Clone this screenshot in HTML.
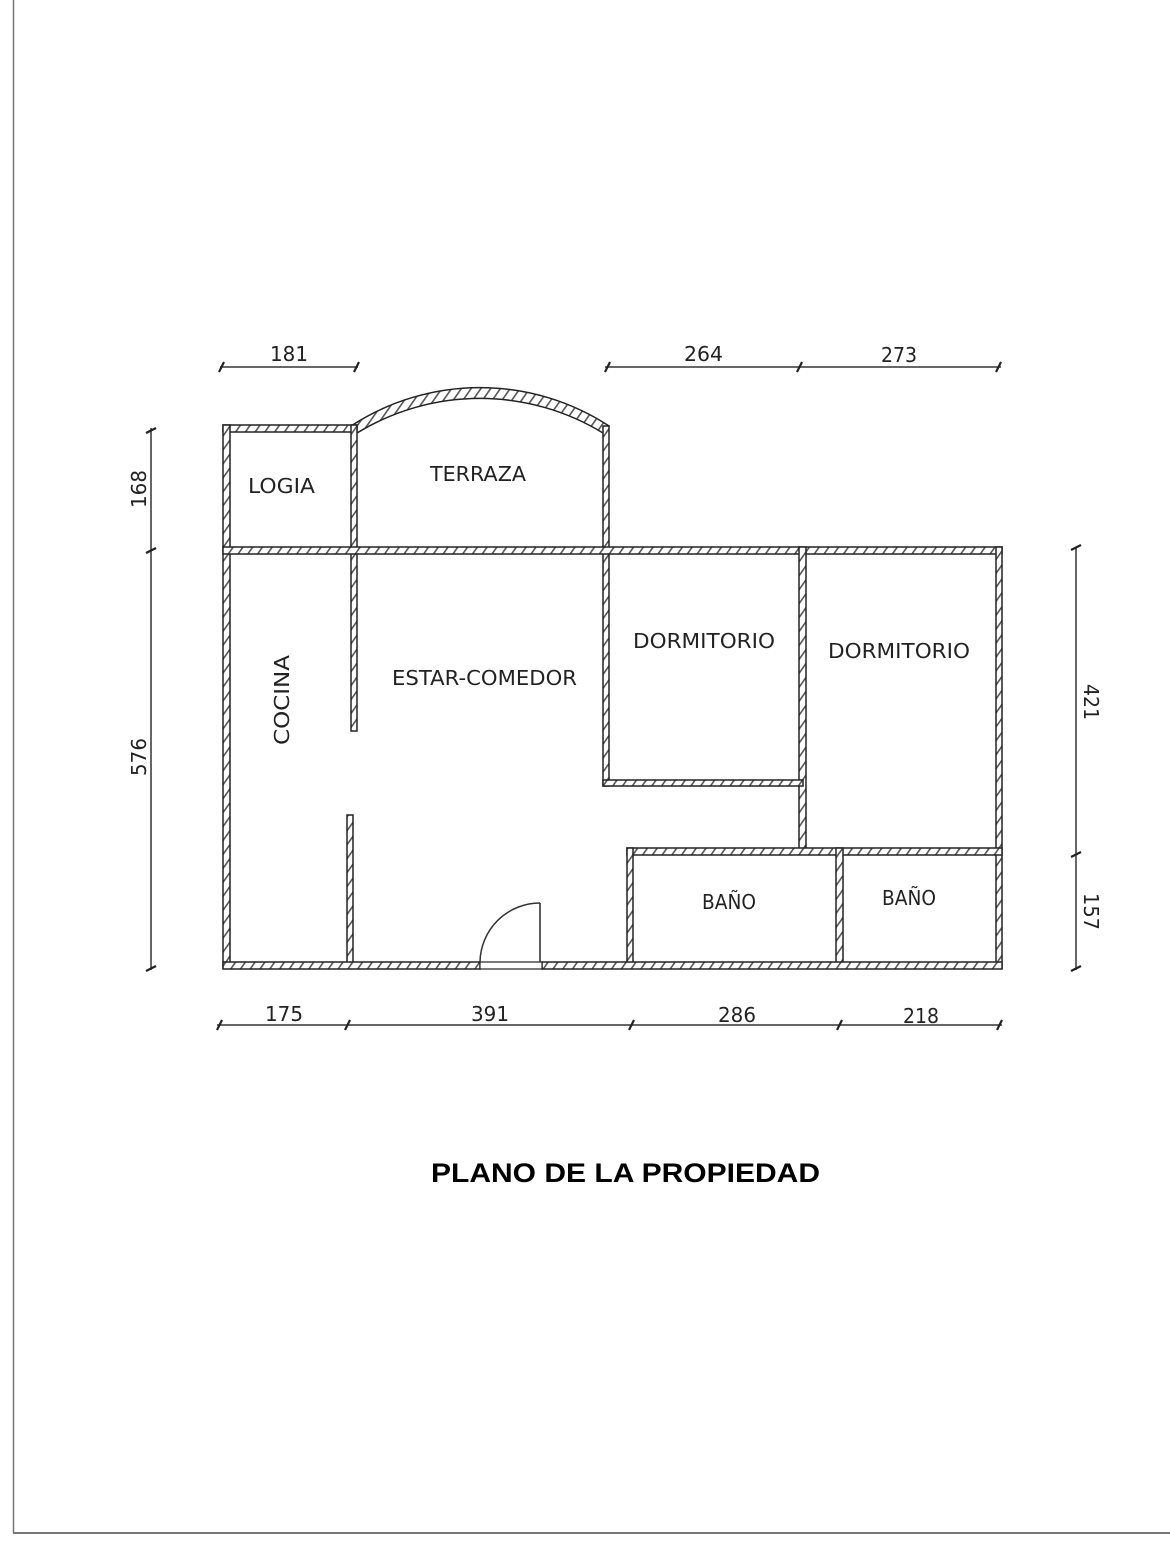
<!DOCTYPE html>
<html><head><meta charset="utf-8"><style>
html,body{margin:0;padding:0;background:#fff}
svg{display:block}
.t{font-family:"DejaVu Sans","Liberation Sans",sans-serif;font-size:20px;fill:#222}
.w{fill:url(#h);stroke:#222;stroke-width:1.5}
.d{stroke:#333;stroke-width:1.5;fill:none}
</style></head><body>
<svg width="1170" height="1545" viewBox="0 0 1170 1545" xmlns="http://www.w3.org/2000/svg">
<defs>
<pattern id="h" width="8" height="8" patternUnits="userSpaceOnUse" patternTransform="rotate(35)">
<rect width="8" height="8" fill="#fff"/><rect width="1.6" height="8" fill="#555"/>
</pattern>
</defs>
<line x1="13.5" y1="0" x2="13.5" y2="1533" stroke="#777" stroke-width="1.5"/>
<line x1="13" y1="1533" x2="1170" y2="1533" stroke="#777" stroke-width="2"/>

<!-- arc terraza -->
<path d="M351 426 A236 236 0 0 1 609 426 L603 433 A236 236 0 0 0 357 433 Z" class="w"/>

<!-- walls -->
<rect class="w" x="223" y="425" width="134" height="7"/>
<rect class="w" x="223" y="425" width="7" height="543"/>
<rect class="w" x="351" y="425" width="6" height="306"/>
<rect class="w" x="603" y="426" width="6" height="360"/>
<rect class="w" x="223" y="547" width="779" height="7"/>
<rect class="w" x="996" y="547" width="6" height="421"/>
<rect class="w" x="799" y="547" width="7" height="306"/>
<rect class="w" x="603" y="780" width="200" height="6"/>
<rect class="w" x="627" y="848" width="375" height="7"/>
<rect class="w" x="627" y="848" width="6" height="120"/>
<rect class="w" x="836" y="848" width="7" height="120"/>
<rect class="w" x="347" y="815" width="6" height="153"/>
<rect class="w" x="223" y="962" width="257" height="7"/>
<rect class="w" x="542" y="962" width="460" height="7"/>
<rect x="480" y="962" width="62" height="7" fill="#fff" stroke="#222" stroke-width="1.2"/>
<!-- door -->
<line x1="540" y1="903" x2="540" y2="962" stroke="#333" stroke-width="1.6"/>
<path d="M480 962 A60 60 0 0 1 540 903" class="d"/>

<!-- labels -->
<text class="t" x="248" y="493" textLength="67" lengthAdjust="spacingAndGlyphs">LOGIA</text>
<text class="t" x="430" y="481" textLength="96" lengthAdjust="spacingAndGlyphs">TERRAZA</text>
<text class="t" x="392" y="685" textLength="185" lengthAdjust="spacingAndGlyphs">ESTAR-COMEDOR</text>
<text class="t" x="633" y="648" textLength="142" lengthAdjust="spacingAndGlyphs">DORMITORIO</text>
<text class="t" x="828" y="658" textLength="142" lengthAdjust="spacingAndGlyphs">DORMITORIO</text>
<text class="t" x="702" y="909" textLength="54" lengthAdjust="spacingAndGlyphs">BAÑO</text>
<text class="t" x="882" y="905" textLength="54" lengthAdjust="spacingAndGlyphs">BAÑO</text>
<text class="t" transform="translate(289,745) rotate(-90)" textLength="90" lengthAdjust="spacingAndGlyphs">COCINA</text>

<!-- dimensions -->
<g class="d">
<line x1="220" y1="367" x2="358" y2="367"/>
<line x1="605" y1="367" x2="1001" y2="367"/>
<line x1="217" y1="1025" x2="1002" y2="1025"/>
<line x1="151" y1="428" x2="151" y2="970"/>
<line x1="1076" y1="547" x2="1076" y2="970"/>
</g>
<g stroke="#222" stroke-width="2.2">
<line x1="219" y1="372" x2="224" y2="362"/><line x1="354" y1="372" x2="359" y2="362"/>
<line x1="605" y1="372" x2="610" y2="362"/><line x1="797" y1="372" x2="802" y2="362"/><line x1="996" y1="372" x2="1001" y2="362"/>
<line x1="217" y1="1030" x2="222" y2="1020"/><line x1="345" y1="1030" x2="350" y2="1020"/><line x1="629" y1="1030" x2="634" y2="1020"/><line x1="837" y1="1030" x2="842" y2="1020"/><line x1="997" y1="1030" x2="1002" y2="1020"/>
<line x1="146" y1="433" x2="156" y2="428"/><line x1="146" y1="553" x2="156" y2="548"/><line x1="146" y1="971" x2="156" y2="966"/>
<line x1="1071" y1="550" x2="1081" y2="545"/><line x1="1071" y1="857" x2="1081" y2="852"/><line x1="1071" y1="971" x2="1081" y2="966"/>
</g>
<g class="t" style="font-size:20px">
<text x="270" y="361" textLength="38" lengthAdjust="spacingAndGlyphs">181</text>
<text x="684" y="361" textLength="39" lengthAdjust="spacingAndGlyphs">264</text>
<text x="881" y="362" textLength="36" lengthAdjust="spacingAndGlyphs">273</text>
<text x="265" y="1021" textLength="38" lengthAdjust="spacingAndGlyphs">175</text>
<text x="471" y="1021" textLength="38" lengthAdjust="spacingAndGlyphs">391</text>
<text x="718" y="1022" textLength="38" lengthAdjust="spacingAndGlyphs">286</text>
<text x="903" y="1023" textLength="36" lengthAdjust="spacingAndGlyphs">218</text>
<text transform="translate(146,508) rotate(-90)" textLength="38" lengthAdjust="spacingAndGlyphs">168</text>
<text transform="translate(146,776) rotate(-90)" textLength="38" lengthAdjust="spacingAndGlyphs">576</text>
<text transform="translate(1084,684) rotate(90)" textLength="36" lengthAdjust="spacingAndGlyphs">421</text>
<text transform="translate(1084,893) rotate(90)" textLength="37" lengthAdjust="spacingAndGlyphs">157</text>
</g>
<text x="431" y="1182" font-family="Liberation Sans, sans-serif" font-weight="bold" font-size="27" fill="#000" textLength="389" lengthAdjust="spacingAndGlyphs">PLANO DE LA PROPIEDAD</text>
</svg>
</body></html>
